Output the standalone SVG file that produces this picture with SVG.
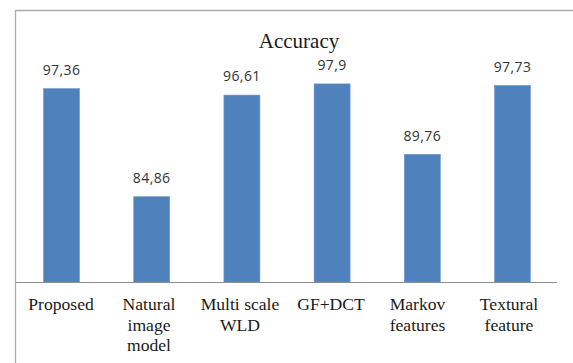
<svg xmlns="http://www.w3.org/2000/svg" width="573" height="363" viewBox="0 0 573 363">
<style>
.bar{fill:#4F81BD;stroke:#6E97CC;stroke-width:0.6}
.val{font-family:"Open Sans","Liberation Sans",sans-serif;font-size:14px;fill:#333;text-anchor:middle;letter-spacing:0.4px}
.cat{font-family:"Liberation Serif","Times New Roman",serif;font-size:17.6px;fill:#1a1a1a;text-anchor:middle}
.title{font-family:"Liberation Serif","Times New Roman",serif;font-size:21px;fill:#1a1a1a;text-anchor:middle}
</style>
<rect x="0" y="0" width="573" height="363" fill="#fff"/>
<g id="frame" fill="none" stroke="#ABABAB" stroke-width="1.3">
<line x1="15.5" y1="10.5" x2="573" y2="10.5"/>
<line x1="15.5" y1="10" x2="15.5" y2="363"/>
</g>
<text id="title" class="title" x="299" y="48">Accuracy</text>
<g id="bars">
<g id="proposed"><rect class="bar" x="43.5" y="88.6" width="36" height="193.4"/><text class="val" x="61.5" y="75">97,36</text><text class="cat" x="61" y="310">Proposed</text></g>
<g id="natural"><rect class="bar" x="133.7" y="196.7" width="36" height="85.3"/><text class="val" x="151.7" y="183">84,86</text><text class="cat" x="149"><tspan x="149" y="310">Natural</tspan><tspan x="149" y="330.5">image</tspan><tspan x="149" y="351">model</tspan></text></g>
<g id="multiscale"><rect class="bar" x="223.9" y="95.1" width="36" height="186.9"/><text class="val" x="241.9" y="81.4">96,61</text><text class="cat" x="240"><tspan x="240" y="310">Multi scale</tspan><tspan x="240" y="330.5">WLD</tspan></text></g>
<g id="gfdct"><rect class="bar" x="314.1" y="83.9" width="36" height="198.1"/><text class="val" x="332.1" y="70.2">97,9</text><text class="cat" x="331" y="310">GF+DCT</text></g>
<g id="markov"><rect class="bar" x="404.3" y="154.3" width="36" height="127.7"/><text class="val" x="422.3" y="140.6">89,76</text><text class="cat" x="417.5"><tspan x="417.5" y="310">Markov</tspan><tspan x="417.5" y="330.5">features</tspan></text></g>
<g id="textural"><rect class="bar" x="494.5" y="85.4" width="36" height="196.6"/><text class="val" x="512.5" y="71.7">97,73</text><text class="cat" x="509"><tspan x="509" y="310">Textural</tspan><tspan x="509" y="330.5">feature</tspan></text></g>
</g>
<g id="connectors">
<line x1="16" y1="282.5" x2="557" y2="282.5" stroke="#8C8C8C" stroke-width="1.2"/>
</g>
</svg>
